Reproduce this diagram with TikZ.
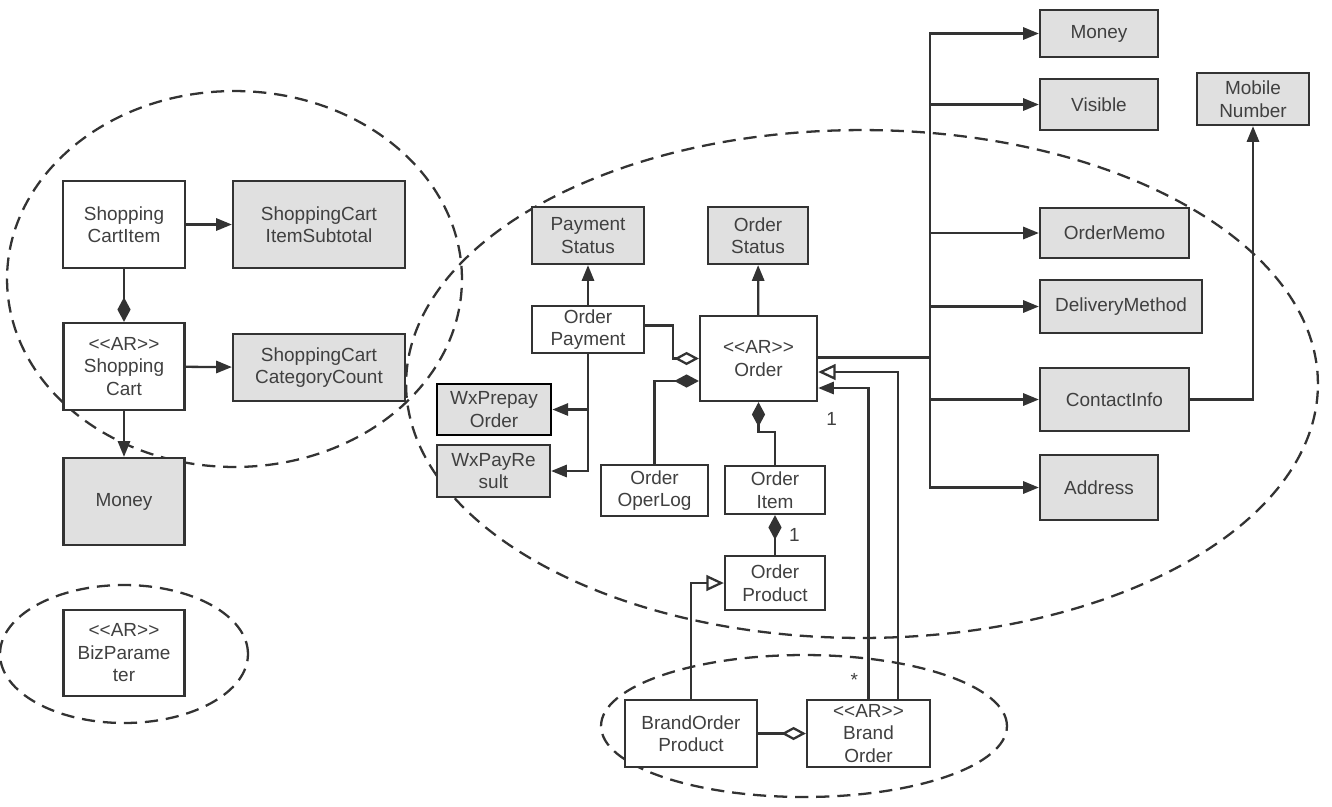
\documentclass[tikz,border=0pt]{standalone}
\usepackage{fontspec}
\setmainfont{Liberation Sans}
\usetikzlibrary{arrows.meta,positioning,backgrounds}
\definecolor{boxgray}{RGB}{224,224,224}
\definecolor{linegray}{RGB}{51,51,51}
\definecolor{textgray}{RGB}{64,64,64}
\newcommand{\ar}{{<}{<}AR{>}{>}}

\begin{document}
\begin{tikzpicture}[
    x=0.02cm, y=-0.02cm,
    box/.style={draw=linegray, line width=1.3pt, fill=white, align=center, inner sep=1pt, text=textgray, font=\fontsize{10.8}{12.8}\selectfont},
    vo/.style={box, fill=boxgray},
    arrow/.style={-{Triangle[length=9pt,width=7pt]}, line width=1.3pt, draw=linegray},
    comp/.style={-{Diamond[length=14pt,width=7.5pt]}, line width=1.3pt, draw=linegray},
    aggr/.style={-{Diamond[open,length=14pt,width=7.5pt]}, line width=1.3pt, draw=linegray},
    inherit/.style={-{Triangle[open,length=10pt,width=9pt]}, line width=1.3pt, draw=linegray},
    mult/.style={text=textgray, font=\fontsize{10.8}{12}\selectfont},
    bcontext/.style={draw=linegray, dash pattern=on 7.5pt off 4.5pt, line width=1.3pt}
]
    \useasboundingbox (0,0) rectangle (1332,806);

    \node[box, minimum width=2.44cm, minimum height=1.74cm] (cartitem) at (124,224.5) {Shopping\\CartItem};
    \node[vo, minimum width=3.44cm, minimum height=1.74cm] (subtotal) at (319,224.5) {ShoppingCart\\ItemSubtotal};
    \node[box, minimum width=2.42cm, minimum height=1.74cm] (cart) at (124,366.5) {\ar\\Shopping\\Cart};
    \node[vo, minimum width=3.44cm, minimum height=1.34cm] (catcount) at (319,367.5) {ShoppingCart\\CategoryCount};
    \node[vo, minimum width=2.42cm, minimum height=1.74cm] (moneyL) at (124,501.5) {Money};
    \node[box, minimum width=2.42cm, minimum height=1.72cm] (bizparam) at (124,653) {\ar\\BizParame\\ter};

    \node[vo, minimum width=2.24cm, minimum height=1.14cm] (paystat) at (588,235.5) {Payment\\Status};
    \node[vo, minimum width=2.0cm, minimum height=1.14cm] (ordstat) at (758,235.5) {Order\\Status};
    \node[box, minimum width=2.24cm, minimum height=0.94cm] (orderpay) at (588,329.5) {Order\\Payment};
    \node[box, minimum width=2.34cm, minimum height=1.7cm] (order) at (758.5,358.5) {\ar\\Order};
    \node[vo, line width=1.6pt, draw=black, minimum width=2.28cm, minimum height=1.02cm] (wxprepay) at (494,409.5) {WxPrepay\\Order};
    \node[vo, minimum width=2.26cm, minimum height=1.04cm] (wxresult) at (493.5,471) {WxPayRe\\sult};
    \node[box, minimum width=2.14cm, minimum height=1.02cm] (operlog) at (654.5,490.5) {Order\\OperLog};
    \node[box, minimum width=2.0cm, minimum height=0.96cm] (orditem) at (775,490) {Order\\Item};
    \node[box, minimum width=2.0cm, minimum height=1.08cm] (ordprod) at (775,583) {Order\\Product};
    \node[box, minimum width=2.64cm, minimum height=1.34cm] (brandprod) at (691,733.5) {BrandOrder\\Product};
    \node[box, minimum width=2.46cm, minimum height=1.34cm] (brandord) at (868.5,733.5) {\ar\\Brand\\Order};

    \node[vo, minimum width=2.36cm, minimum height=0.94cm] (moneyR) at (1099,33.5) {Money};
    \node[vo, minimum width=2.36cm, minimum height=1.02cm] (visible) at (1099,104.5) {Visible};
    \node[vo, minimum width=2.24cm, minimum height=1.04cm] (mobile) at (1253,99) {Mobile\\Number};
    \node[vo, minimum width=2.98cm, minimum height=1.0cm] (memo) at (1114.5,233) {OrderMemo};
    \node[vo, minimum width=3.24cm, minimum height=1.06cm] (delivery) at (1121,306.5) {DeliveryMethod};
    \node[vo, minimum width=2.98cm, minimum height=1.26cm] (contact) at (1114.5,399.5) {ContactInfo};
    \node[vo, minimum width=2.36cm, minimum height=1.3cm] (address) at (1099,487.5) {Address};

    \coordinate (trunk) at (930,357);

    \begin{scope}[on background layer]
        \draw[bcontext] (234.5,279) ellipse [x radius=4.55cm, y radius=3.76cm];
        \draw[bcontext] (124,654) ellipse [x radius=2.48cm, y radius=1.38cm];
        \draw[bcontext] (862,384) ellipse [x radius=9.12cm, y radius=5.08cm];
        \draw[bcontext] (804,726) ellipse [x radius=4.06cm, y radius=1.42cm];
    \end{scope}

    \draw[arrow] (cartitem) -- (subtotal);
    \draw[comp] (cartitem) -- (cart);
    \draw[arrow] (cart) -- (catcount);
    \draw[arrow] (cart) -- (moneyL);

    \draw[arrow] (orderpay) -- (paystat);
    \draw[arrow] (order) -- (ordstat);
    \draw[aggr] ([yshift=0.08cm]orderpay.east) -- ++(28,0) |- (order.west);
    \draw[arrow] (orderpay.south) |- (wxprepay.east);
    \draw[arrow] (orderpay.south) |- (wxresult.east);
    \draw[comp] (operlog.north) |- ([yshift=-0.45cm]order.west);
    \draw[comp] (orditem.north) -- ++(0,-33) -| (order.south);
    \draw[comp] (ordprod) -- node[mult, right, xshift=4pt] {1} (orditem);
    \draw[inherit] (brandprod.north) |- (ordprod.west);
    \draw[aggr] (brandprod) -- (brandord);
    \draw[arrow] (brandord.north) |- node[mult, pos=0.03, left, xshift=-2pt] {*} node[mult, pos=0.45, left, xshift=-14pt] {1} ([yshift=-0.59cm]order.east);
    \draw[inherit] ([xshift=0.59cm]brandord.north) |- ([yshift=-0.27cm]order.east);

    \draw[line width=1.7pt, draw=linegray] (order.east |- trunk) -- (trunk);
    \draw[arrow] (trunk) |- (moneyR);
    \draw[arrow] (trunk) |- (visible);
    \draw[arrow] (trunk) |- (memo);
    \draw[arrow] (trunk) |- (delivery);
    \draw[arrow] (trunk) |- (contact);
    \draw[arrow] (trunk) |- (address);
    \draw[arrow] (contact.east) -| (mobile.south);
\end{tikzpicture}
\end{document}
